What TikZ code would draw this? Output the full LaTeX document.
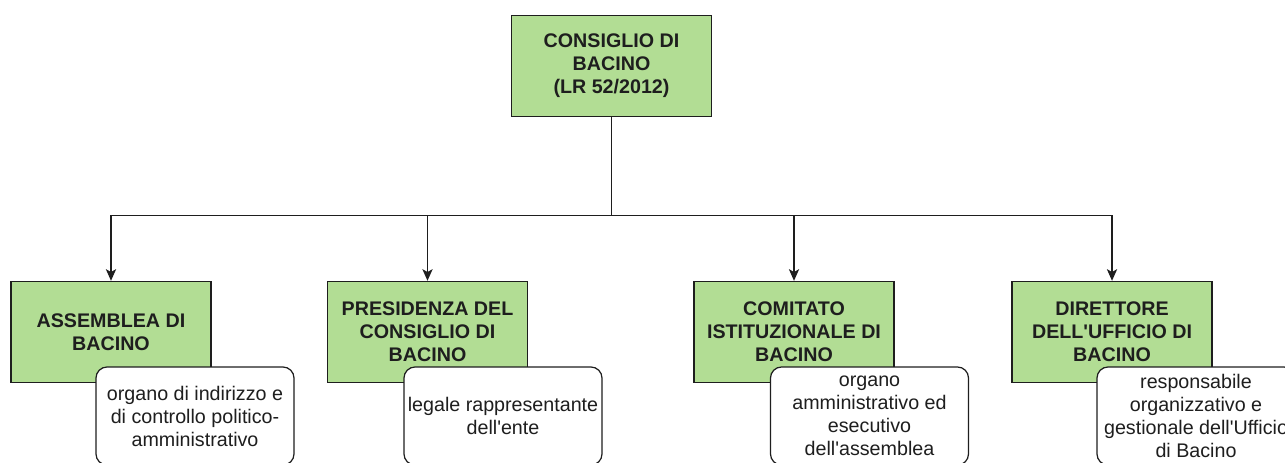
\documentclass[tikz,border=0pt]{standalone}
\usepackage{fontspec}
\setmainfont{Liberation Sans}
\usepackage{tikz}
\usetikzlibrary{calc}
\usetikzlibrary{arrows.meta}
\usetikzlibrary{positioning}
\definecolor{leafgreen}{RGB}{178, 221, 148}
\definecolor{inkgray}{RGB}{30, 30, 30}

\begin{document}
\begin{tikzpicture}[
        ente/.style={draw=inkgray, fill=leafgreen, line width=0.8pt, minimum width=4.00cm, minimum height=2.02cm,
                     inner sep=2pt, align=center, font=\fontsize{11.2}{13.1}\selectfont\bfseries, text=inkgray},
        nota/.style={draw=inkgray, fill=white, line width=0.7pt, rounded corners=0.22cm, minimum width=3.96cm,
                     minimum height=1.96cm, inner sep=1pt, align=center, font=\fontsize{11.2}{13.1}\selectfont, text=inkgray},
        collegamento/.style={draw=inkgray, line width=0.8pt, -{Stealth[length=6.6pt, width=5.8pt, inset=1.6pt]}}
    ]
            \useasboundingbox                                             ( 0.00, 0.00) rectangle (25.70,-9.24);
            \node[ente] (consiglio)  at (12.23,-1.32) {CONSIGLIO DI\\BACINO\\(LR 52/2012)};
            \node[ente] (assemblea)  at ( 2.22,-6.64) {ASSEMBLEA DI\\BACINO};
            \node[ente] (presidenza) at ( 8.55,-6.64) {PRESIDENZA DEL\\CONSIGLIO DI\\BACINO};
            \node[ente] (comitato)   at (15.88,-6.64) {COMITATO\\ISTITUZIONALE DI\\BACINO};
            \node[ente] (direttore)  at (22.24,-6.64) {DIRETTORE\\DELL\textquotesingle UFFICIO DI\\BACINO};
            \node[nota] (notaAssemblea)  at ( 3.90,-8.32) {organo di indirizzo e\\di controllo politico-\\amministrativo};
            \node[nota] (notaPresidenza) at (10.06,-8.32) {legale rappresentante\\dell\textquotesingle ente};
            \node[nota] (notaComitato)   at (17.39,-8.32) {organo\\amministrativo ed\\esecutivo\\dell\textquotesingle assemblea};
            \node[nota] (notaDirettore)  at (23.92,-8.32) {responsabile\\organizzativo e\\gestionale dell\textquotesingle Ufficio\\di Bacino};
            \coordinate (snodo) at ($(consiglio.south)+(0,-1.96)$);
            \foreach \organo in {assemblea, presidenza, comitato, direttore}
                \draw[collegamento] (consiglio.south) -- (snodo) -| (\organo.north);
\end{tikzpicture}
\end{document}
